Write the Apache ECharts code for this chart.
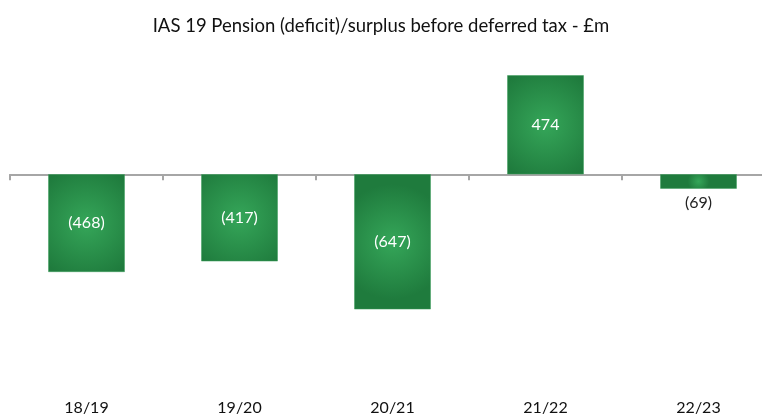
<!DOCTYPE html>
<html>
<head>
<meta charset="utf-8">
<script src="https://cdn.jsdelivr.net/npm/echarts@6/dist/echarts.min.js"></script>
<style>html,body{margin:0;padding:0;background:#fff}#c{width:762px;height:416px}</style>
</head>
<body>
<div id="c"></div>
<script>
var categories = ['18/19', '19/20', '20/21', '21/22', '22/23'];
var values = [-468, -417, -647, 474, -69];
var titleText = 'IAS 19 Pension (deficit)/surplus before deferred tax - £m';

function fmt(v) { return v < 0 ? '(' + Math.abs(v) + ')' : String(v); }

var chart = echarts.init(document.getElementById('c'));
var green = {
  type: 'radial', x: 0.5, y: 0.5, r: 0.75,
  colorStops: [{offset: 0, color: '#35a659'}, {offset: 1, color: '#1f7b3d'}]
};
chart.setOption({
  animation: false,
  title: {
    text: titleText, left: 'center', top: 12,
    textStyle: {fontFamily: 'Lato', fontSize: 18.5, fontWeight: 'normal', color: '#111'}
  },
  grid: {left: 10, top: 49, right: -13, height: 334, outerBoundsMode: 'none', containLabel: false},
  xAxis: [{
    type: 'category', data: categories, position: 'bottom',
    axisLine: {onZero: true, lineStyle: {color: '#a6a6a6', width: 2}},
    axisTick: {show: true, length: 6, lineStyle: {color: '#a6a6a6', width: 2}},
    axisLabel: {show: false}
  }, {
    type: 'category', data: categories, position: 'bottom',
    axisLine: {show: false, onZero: false}, axisTick: {show: false},
    axisLabel: {margin: 17, fontFamily: 'Lato', fontSize: 16, color: '#111'}
  }],
  yAxis: {
    type: 'value', min: -1000, max: 600, show: false,
    splitLine: {show: false}
  },
  series: [{
    type: 'bar', xAxisIndex: 0, data: values.map(function (v) {
      return {
        value: v,
        label: Math.abs(v) < 150 ? {position: 'bottom', color: '#222', distance: 6} : {}
      };
    }),
    barWidth: '50%',
    itemStyle: {color: green, borderColor: '#3a9d5a', borderWidth: 0.5},
    label: {
      show: true, position: 'inside', color: '#fff', fontFamily: 'Lato', fontSize: 16,
      formatter: function (p) { return fmt(p.value); }
    }
  }]
});
</script>
</body>
</html>
